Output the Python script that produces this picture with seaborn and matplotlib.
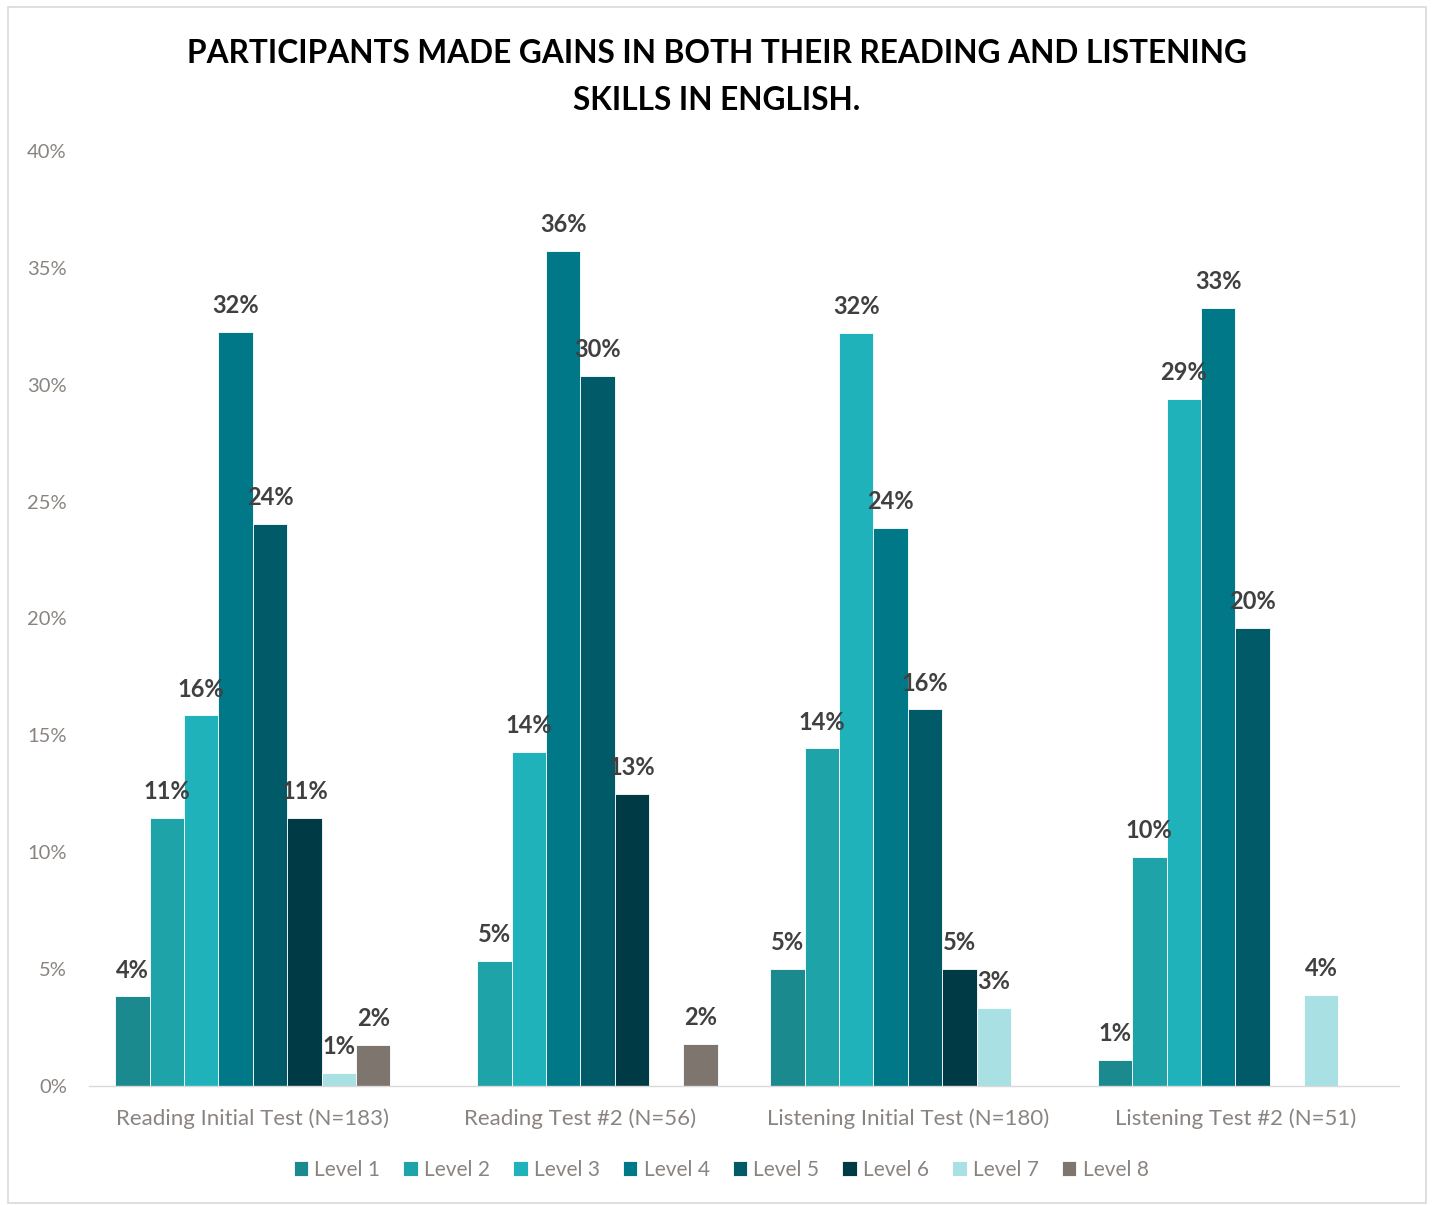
import matplotlib
matplotlib.use("Agg")
import matplotlib.pyplot as plt
import seaborn as sns
import pandas as pd
import numpy as np
from matplotlib.patches import Rectangle

categories = ["Reading Initial Test (N=183)", "Reading Test #2 (N=56)",
              "Listening Initial Test (N=180)", "Listening Test #2 (N=51)"]
levels = ["Level 1", "Level 2", "Level 3", "Level 4", "Level 5", "Level 6", "Level 7", "Level 8"]
# percentages per level for each test (None = no bar)
reading_initial = [3.83, 11.48, 15.85, 32.24, 24.04, 11.48, 0.55, 1.75]
reading_test2 = [None, 5.36, 14.29, 35.71, 30.36, 12.5, None, 1.79]
listening_initial = [5.0, 14.44, 32.22, 23.89, 16.11, 5.0, 3.33, None]
listening_test2 = [1.1, 9.8, 29.4, 33.3, 19.6, None, 3.9, None]
colors = ["#1a8a8e", "#1ea3a8", "#20b2ba", "#007888", "#005a67", "#003a44", "#a8e0e4", "#7f756f"]
title = "PARTICIPANTS MADE GAINS IN BOTH THEIR READING AND LISTENING\nSKILLS IN ENGLISH."

rows = []
for cat, vals in zip(categories, [reading_initial, reading_test2, listening_initial, listening_test2]):
    for lev, v in zip(levels, vals):
        if v is not None:
            rows.append({"test": cat, "level": lev, "pct": v})
df = pd.DataFrame(rows)

sns.set_theme(style="white")
plt.rcParams["font.family"] = ["Lato", "DejaVu Sans"]

fig = plt.figure(figsize=(14.32, 12.05), dpi=100)
ax = fig.add_axes([0.0622, 0.0988, 0.9148, 0.7759])
sns.barplot(data=df, x="test", y="pct", hue="level", order=categories, hue_order=levels,
            palette=colors, width=0.84, gap=0, dodge=True, ax=ax, errorbar=None,
            edgecolor="white", linewidth=0.6, saturation=1)

ax.set_xlim(-0.5, 3.5)
ax.set_ylim(0, 40)
ax.set_yticks(np.arange(0, 41, 5))
ax.set_yticklabels([f"{t}%" for t in range(0, 41, 5)])
ax.set_xlabel("")
ax.set_ylabel("")
grey = "#8a8480"
ax.tick_params(axis="y", colors=grey, labelsize=14.5, length=0, pad=16)
ax.tick_params(axis="x", colors=grey, labelsize=16, length=0, pad=16)
for lab in ax.get_yticklabels():
    lab.set_color(grey)
for lab in ax.get_xticklabels():
    lab.set_color(grey)
for s in ["top", "right", "left"]:
    ax.spines[s].set_visible(False)
ax.spines["bottom"].set_color("#d9d9d9")
ax.spines["bottom"].set_linewidth(1.0)

for container in ax.containers:
    for bar in container:
        h = bar.get_height()
        if np.isnan(h) or h <= 0:
            continue
        ax.annotate(f"{int(h + 0.5)}%", (bar.get_x() + bar.get_width() / 2, h),
                    xytext=(0, 19), textcoords="offset points", ha="center", va="center",
                    fontsize=17, fontweight="bold", color="#404040")

handles, labels = ax.get_legend_handles_labels()
ax.legend_.remove()
leg = fig.legend(handles, labels, loc="center", bbox_to_anchor=(0.5035, 0.029), ncol=8,
                 frameon=False, fontsize=15, handlelength=0.7, handleheight=0.7,
                 handletextpad=0.3, columnspacing=1.1)
for t in leg.get_texts():
    t.set_color(grey)

fig.text(0.5005, 0.9365, title, ha="center", va="center", fontsize=22.8, fontweight="bold",
         color="#000000", linespacing=1.75)

fig.patches.append(Rectangle((8 / 1432, 2 / 1205), 1418 / 1432, 1196 / 1205, transform=fig.transFigure,
                             fill=False, edgecolor="#d9d9d9", linewidth=1.2))

fig.savefig("out.png", dpi=100)
